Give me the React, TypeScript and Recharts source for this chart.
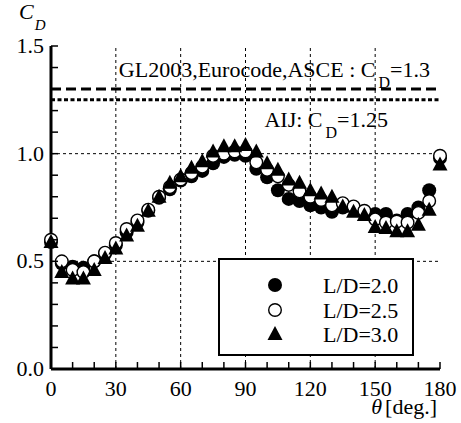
import React from 'react';
import { ScatterChart, Scatter, XAxis, YAxis, ReferenceLine, Legend } from 'recharts';

const theta = [0, 5, 10, 15, 20, 25, 30, 35, 40, 45, 50, 55, 60, 65, 70, 75, 80, 85, 90,
  95, 100, 105, 110, 115, 120, 125, 130, 135, 140, 145, 150, 155, 160, 165, 170, 175, 180];

const cdLD20 = [0.59, 0.49, 0.475, 0.47, 0.50, 0.535, 0.575, 0.635, 0.68, 0.735, 0.795, 0.835, 0.875, 0.895, 0.92, 0.955, 0.985, 0.995, 0.99,
  0.93, 0.89, 0.83, 0.79, 0.78, 0.76, 0.75, 0.73, 0.75, 0.75, 0.73, 0.72, 0.72, 0.69, 0.72, 0.75, 0.83, 0.98];
const cdLD25 = [0.60, 0.50, 0.46, 0.45, 0.50, 0.54, 0.585, 0.65, 0.69, 0.74, 0.80, 0.845, 0.88, 0.91, 0.94, 0.99, 1.0, 1.01, 1.01,
  0.96, 0.925, 0.895, 0.855, 0.825, 0.80, 0.785, 0.76, 0.77, 0.755, 0.735, 0.695, 0.68, 0.685, 0.68, 0.725, 0.78, 0.99];
const cdLD30 = [0.59, 0.45, 0.42, 0.42, 0.46, 0.515, 0.56, 0.62, 0.665, 0.735, 0.80, 0.865, 0.895, 0.935, 0.965, 1.01, 1.035, 1.035, 1.04,
  1.01, 0.955, 0.925, 0.88, 0.865, 0.83, 0.815, 0.80, 0.755, 0.73, 0.715, 0.66, 0.655, 0.64, 0.64, 0.67, 0.74, 0.95];

const xTicks = [0, 10, 20, 30, 40, 50, 60, 70, 80, 90, 100, 110, 120, 130, 140, 150, 160, 170, 180];
const xLabels = [0, 30, 60, 90, 120, 150, 180];
const yTicks = [0, 0.1, 0.2, 0.3, 0.4, 0.5, 0.6, 0.7, 0.8, 0.9, 1.0, 1.1, 1.2, 1.3, 1.4, 1.5];
const yLabels = [0, 0.5, 1.0, 1.5];
const gridX = [30, 60, 90, 120, 150];
const gridY = [0.5, 1.0];

const codeGL = 1.3;
const codeAIJ = 1.25;

const seriesNames = ['L/D=2.0', 'L/D=2.5', 'L/D=3.0'];
const seriesValues = [cdLD20, cdLD25, cdLD30];
const seriesMarkers = ['filled', 'open', 'triangle'];

const FONT = '"Liberation Serif", "Times New Roman", Times, serif';
const txt = { fontFamily: FONT, fontSize: 22 };

const toData = (vals: number[]) => theta.map((t, i) => ({ theta: t, cd: vals[i] }));

function Marker({ kind, cx, cy }: { kind: string; cx: number; cy: number }) {
  if (kind === 'filled') return <circle cx={cx} cy={cy} r={7} fill="#000" />;
  if (kind === 'open') return <circle cx={cx} cy={cy} r={6.3} fill="#fff" stroke="#000" strokeWidth={1.4} />;
  return <polygon points={`${cx},${cy - 8} ${cx + 7.5},${cy + 6} ${cx - 7.5},${cy + 6}`} fill="#000" />;
}

const BottomTick = (props: any) => {
  const { x, y, payload } = props;
  const v = payload.value;
  return (
    <g>
      <line x1={x} x2={x} y1={y} y2={y - 7} stroke="#000" strokeWidth={1.5} />
      {xLabels.includes(v) && (
        <text x={x} y={y + 27} textAnchor="middle" style={txt} fill="#000">{v}</text>
      )}
    </g>
  );
};

const TopTick = (props: any) => {
  const { x, y } = props;
  return <line x1={x} x2={x} y1={y} y2={y + 7} stroke="#000" strokeWidth={1.5} />;
};

const LeftTick = (props: any) => {
  const { x, y, payload } = props;
  const v = payload.value;
  return (
    <g>
      <line x1={x} x2={x + 7} y1={y} y2={y} stroke="#000" strokeWidth={1.5} />
      {yLabels.includes(v) && (
        <text x={x - 7} y={y + 7} textAnchor="end" style={txt} fill="#000">{v.toFixed(1)}</text>
      )}
    </g>
  );
};

const RightTick = (props: any) => {
  const { x, y } = props;
  return <line x1={x} x2={x - 7} y1={y} y2={y} stroke="#000" strokeWidth={1.5} />;
};

const glLabel = (props: any) => {
  const vb = props.viewBox || {};
  return (
    <text x={vb.x + vb.width - 10} y={vb.y - 12} textAnchor="end" style={txt} fill="#000">
      GL2003,Eurocode,ASCE : C
      <tspan dx={3} dy={11} style={{ fontSize: 16 }}>D</tspan>
      <tspan dy={-11}>=1.3</tspan>
    </text>
  );
};

const aijLabel = (props: any) => {
  const vb = props.viewBox || {};
  return (
    <text x={vb.x + vb.width - 52} y={vb.y + 27} textAnchor="end" style={txt} fill="#000">
      AIJ: C
      <tspan dx={3} dy={11} style={{ fontSize: 16 }}>D</tspan>
      <tspan dy={-11}>=1.25</tspan>
    </text>
  );
};

const yTitle = (props: any) => {
  const vb = props.viewBox || {};
  return (
    <text x={vb.x + 19} y={vb.y - 27} style={{ ...txt, fontStyle: 'italic' }} fill="#000">
      C
      <tspan dx={1} dy={11} style={{ fontSize: 15 }}>D</tspan>
    </text>
  );
};

const xTitle = (props: any) => {
  const vb = props.viewBox || {};
  return (
    <text x={vb.x + vb.width - 3} y={vb.y + 45} textAnchor="end" style={txt} fill="#000">
      <tspan style={{ fontStyle: 'italic' }}>θ</tspan>
      <tspan dx={3}>[deg.]</tspan>
    </text>
  );
};

function LegendBox() {
  const rows = [27, 52, 76];
  return (
    <svg width={196} height={98} style={{ display: 'block' }}>
      <rect x={1} y={1} width={194} height={96} fill="#fff" stroke="#000" strokeWidth={2} />
      {seriesNames.map((n, i) => (
        <g key={n}>
          <Marker kind={seriesMarkers[i]} cx={57} cy={rows[i]} />
          <text x={105} y={rows[i] + 8} style={txt} fill="#000">{n}</text>
        </g>
      ))}
    </svg>
  );
}

export default function App() {
  return (
    <div style={{ position: 'absolute', left: 0, top: 0, background: '#fff' }}>
      <ScatterChart width={461} height={423} margin={{ top: 46, right: 21, bottom: 0, left: 0 }}>
        <XAxis xAxisId="b" dataKey="theta" type="number" domain={[0, 180]} ticks={xTicks} interval={0}
          tickSize={0} tickMargin={0} height={54} axisLine={{ stroke: '#000', strokeWidth: 3 }}
          tick={BottomTick} label={xTitle} />
        <XAxis xAxisId="t" orientation="top" type="number" domain={[0, 180]} ticks={xTicks} interval={0}
          tickSize={0} tickMargin={0} height={0} axisLine={{ stroke: '#000', strokeWidth: 3 }} tick={TopTick} />
        <YAxis yAxisId="l" dataKey="cd" type="number" domain={[0, 1.5]} ticks={yTicks} interval={0}
          tickSize={0} tickMargin={0} width={51} axisLine={{ stroke: '#000', strokeWidth: 3 }}
          tick={LeftTick} label={yTitle} />
        <YAxis yAxisId="r" orientation="right" type="number" domain={[0, 1.5]} ticks={yTicks} interval={0}
          tickSize={0} tickMargin={0} width={0} axisLine={{ stroke: '#000', strokeWidth: 3 }} tick={RightTick} />
        {gridX.map((g) => (
          <ReferenceLine key={`gx${g}`} xAxisId="b" yAxisId="l" x={g} stroke="#000" strokeWidth={1} strokeDasharray="3 3" />
        ))}
        {gridY.map((g) => (
          <ReferenceLine key={`gy${g}`} xAxisId="b" yAxisId="l" y={g} stroke="#000" strokeWidth={1} strokeDasharray="3 3" />
        ))}
        <ReferenceLine xAxisId="b" yAxisId="l" y={codeGL} stroke="#000" strokeWidth={3} strokeDasharray="10 5" label={glLabel} />
        <ReferenceLine xAxisId="b" yAxisId="l" y={codeAIJ} stroke="#000" strokeWidth={3} strokeDasharray="4 2.5" label={aijLabel} />
        {seriesNames.map((n, i) => (
          <Scatter key={n} name={n} xAxisId="b" yAxisId="l" data={toData(seriesValues[i])} isAnimationActive={false}
            shape={(p: any) => <Marker kind={seriesMarkers[i]} cx={p.cx} cy={p.cy} />} />
        ))}
        <Legend verticalAlign="middle" align="center" layout="horizontal"
          wrapperStyle={{ left: 218, top: 258, width: 196, height: 98 }}
          content={() => <LegendBox />} />
      </ScatterChart>
    </div>
  );
}
